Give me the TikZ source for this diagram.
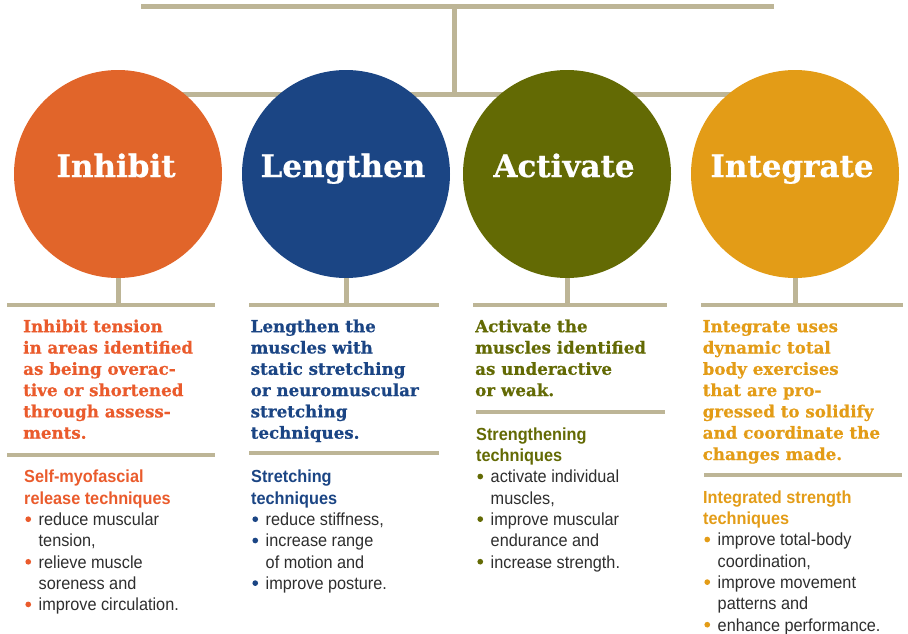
\documentclass[tikz,border=0pt]{standalone}
\usepackage{fontspec}
\setmainfont{Liberation Sans}
\newfontfamily\slabf{DejaVu Serif}[BoldFeatures={FakeBold=0.6}]
\newfontfamily\bodyf{Liberation Sans}[FakeStretch=0.93]
\definecolor{cInh}{HTML}{E1652A}
\definecolor{cLen}{HTML}{1B4584}
\definecolor{cAct}{HTML}{636A04}
\definecolor{cInt}{HTML}{E39C17}
\definecolor{tInh}{HTML}{EA5B2C}
\definecolor{barc}{HTML}{BDB596}
\definecolor{txt}{HTML}{2E2E2E}
\newcommand\bul[1]{\makebox[14.5pt][l]{\hspace{1.2pt}\tikz[baseline=-6.3pt]\fill[#1] (2.85pt,0pt) circle (2.85pt);}}
\newcommand\cont{\hspace*{14.5pt}}
\newcommand\subh[2]{{\bfseries\color{#1}#2}}
\newcommand\firststrut{\rule{0pt}{15pt}}
\begin{document}
\begin{tikzpicture}[x=1pt,y=-1pt,
  barline/.style={draw=barc, line width=4.5pt},
  sepline/.style={draw=barc, line width=3.6pt},
  disc/.style={circle, minimum size=208pt, inner sep=0pt},
  ttl/.style={text=white, font=\slabf\bfseries\fontsize{31}{31}\selectfont, anchor=base, inner sep=0pt},
  head/.style={anchor=north west, inner sep=0pt, align=left, font=\slabf\bfseries\fontsize{16.7}{21.3}\selectfont},
  body/.style={anchor=north west, inner sep=0pt, align=left, font=\bodyf\fontsize{17.5}{21.3}\selectfont, text=txt}]
\useasboundingbox (0,0) rectangle (908,633);
% top tree
\coordinate (topL) at (141,6.5);
\coordinate (topR) at (774,6.5);
\coordinate (topM) at (454.5,6.5);
\coordinate (midM) at (454.5,94.5);
\coordinate (midL) at (118,94.5);
\coordinate (midR) at (795,94.5);
\draw[barline] (topL) -- (topR);
\draw[barline, line width=4.3pt] (topM) -- (midM);
\draw[barline] (midL) -- (midR);
% circles
\node[disc, fill=cInh] (inh) at (118,174) {};
\node[disc, fill=cLen] (len) at (346,174) {};
\node[disc, fill=cAct] (act) at (567,174) {};
\node[disc, fill=cInt] (int) at (795,174) {};
\node[ttl] (tinh) at (116,177) {Inhibit};
\node[ttl] (tlen) at (343,177) {Lengthen};
\node[ttl] (tact) at (564,177) {Activate};
\node[ttl] (tint) at (792,177) {Integrate};
% bars under circles
\coordinate (b1L) at (7,305);   \coordinate (b1R) at (215,305);
\coordinate (b2L) at (249,305); \coordinate (b2R) at (439,305);
\coordinate (b3L) at (473,305); \coordinate (b3R) at (667,305);
\coordinate (b4L) at (701,305); \coordinate (b4R) at (903,305);
\draw[barline] (b1L) -- (b1R);
\draw[barline] (b2L) -- (b2R);
\draw[barline] (b3L) -- (b3R);
\draw[barline] (b4L) -- (b4R);
\draw[barline, line width=5pt] (inh.south) -- (inh.south |- b1L);
\draw[barline, line width=5pt] (len.south) -- (len.south |- b2L);
\draw[barline, line width=5pt] (act.south) -- (act.south |- b3L);
\draw[barline, line width=5pt] (int.south) -- (int.south |- b4L);
% separators
\coordinate (s1L) at (7,455);     \coordinate (s1R) at (215,455);
\coordinate (s2L) at (249,453);   \coordinate (s2R) at (439,453);
\coordinate (s3L) at (476,411.7); \coordinate (s3R) at (665,411.7);
\coordinate (s4L) at (704,475);   \coordinate (s4R) at (902,475);
\draw[sepline] (s1L) -- (s1R);
\draw[sepline] (s2L) -- (s2R);
\draw[sepline] (s3L) -- (s3R);
\draw[sepline] (s4L) -- (s4R);
% headings
\node[head, text=tInh] (h1) at (23,317) {\firststrut Inhibit tension\\in areas identified\\as being overac-\\tive or shortened\\through assess-\\ments.};
\node[head, text=cLen] (h2) at (250.5,317) {\firststrut Lengthen the\\muscles with\\static stretching\\or neuromuscular\\stretching\\techniques.};
\node[head, text=cAct] (h3) at (475,317) {\firststrut Activate the\\muscles identified\\as underactive\\or weak.};
\node[head, text=cInt] (h4) at (702.5,317) {\firststrut Integrate uses\\dynamic total\\body exercises\\that are pro-\\gressed to solidify\\and coordinate the\\changes made.};
% bodies
\node[body] (d1) at (24,467.7) {\firststrut\subh{tInh}{Self-myofascial}\\\subh{tInh}{release techniques}\\\bul{tInh}reduce muscular\\\cont tension,\\\bul{tInh}relieve muscle\\\cont soreness and\\\bul{tInh}improve circulation.};
\node[body] (d2) at (251,467.7) {\firststrut\subh{cLen}{Stretching}\\\subh{cLen}{techniques}\\\bul{cLen}reduce stiffness,\\\bul{cLen}increase range\\\cont of motion and\\\bul{cLen}improve posture.};
\node[body] (d3) at (476,425) {\firststrut\subh{cAct}{Strengthening}\\\subh{cAct}{techniques}\\\bul{cAct}activate individual\\\cont muscles,\\\bul{cAct}improve muscular\\\cont endurance and\\\bul{cAct}increase strength.};
\node[body] (d4) at (703,488) {\firststrut\subh{cInt}{Integrated strength}\\\subh{cInt}{techniques}\\\bul{cInt}improve total-body\\\cont coordination,\\\bul{cInt}improve movement\\\cont patterns and\\\bul{cInt}enhance performance.};
\end{tikzpicture}
\end{document}
